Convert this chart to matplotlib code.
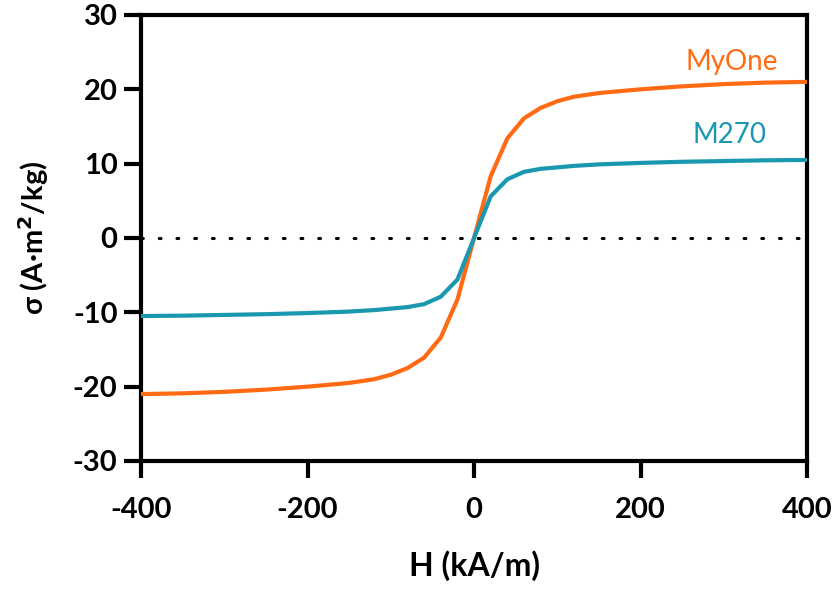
import numpy as np
import matplotlib
matplotlib.use('Agg')
import matplotlib.pyplot as plt

plt.rcParams['font.family'] = ['Lato', 'DejaVu Sans']
plt.rcParams['axes.unicode_minus'] = False

# 磁场强度 H (kA/m)
h = [-400, -350, -300, -250, -200, -150, -120, -100, -80, -60, -40, -20, 0,
     20, 40, 60, 80, 100, 120, 150, 200, 250, 300, 350, 400]
# 比磁化强度 σ (A·m2/kg)
myone = [-21.0, -20.9, -20.7, -20.4, -20.0, -19.5, -19.0, -18.4, -17.5, -16.1, -13.4, -8.3, 0.0,
         8.3, 13.4, 16.1, 17.5, 18.4, 19.0, 19.5, 20.0, 20.4, 20.7, 20.9, 21.0]
m270 = [-10.5, -10.45, -10.35, -10.25, -10.1, -9.9, -9.7, -9.5, -9.3, -8.9, -7.9, -5.6, 0.0,
        5.6, 7.9, 8.9, 9.3, 9.5, 9.7, 9.9, 10.1, 10.25, 10.35, 10.45, 10.5]

c_orange = '#FF6A13'
c_teal = '#1A98B0'

fig = plt.figure(figsize=(8.37, 5.92), dpi=100)
ax = fig.add_axes([0.1685, 0.2213, 0.7957, 0.7534])

# 零线
ax.plot([-400, 400], [0, 0], color='black', lw=2.2, ls=(0, (0.6, 5.2)), dash_capstyle='round', zorder=1)
ax.plot(h, myone, color=c_orange, lw=3, zorder=3)
ax.plot(h, m270, color=c_teal, lw=3, zorder=3)

ax.text(365, 23.7, 'MyOne', color=c_orange, fontsize=20, ha='right', va='center')
ax.text(351, 13.9, 'M270', color=c_teal, fontsize=20, ha='right', va='center')

ax.set_xlim(-400, 400)
ax.set_ylim(-30, 30)
ax.set_xticks([-400, -200, 0, 200, 400])
ax.set_yticks(np.arange(-30, 31, 10))

for s in ax.spines.values():
    s.set_linewidth(3)
ax.tick_params(direction='out', length=12, width=3, labelsize=21)
ax.tick_params(axis='x', pad=14)
ax.tick_params(axis='y', pad=5)
for lab in ax.get_xticklabels() + ax.get_yticklabels():
    lab.set_fontweight('bold')

ax.set_xlabel('H (kA/m)', fontsize=23, fontweight='bold')
ax.set_ylabel(r'σ (A·m$^\mathbf{2}$/kg)', fontsize=21, fontweight='bold')
ax.xaxis.set_label_coords(0.5, -0.200)
ax.yaxis.set_label_coords(-0.135, 0.5)

fig.savefig('out.png', dpi=100)
